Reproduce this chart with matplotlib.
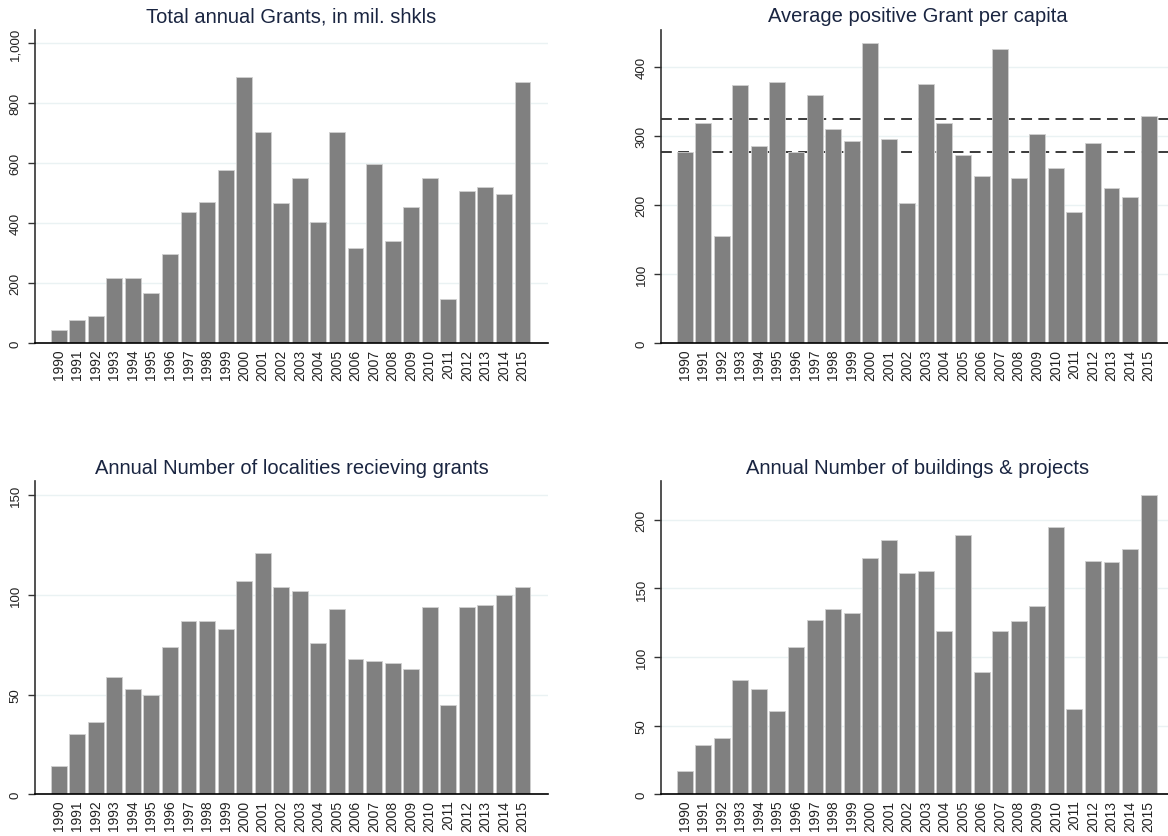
import numpy as np
import matplotlib
matplotlib.use('Agg')
import matplotlib.pyplot as plt
from matplotlib.ticker import FuncFormatter

plt.rcParams['font.family'] = ['Liberation Sans', 'DejaVu Sans']

years = [str(y) for y in range(1990, 2016)]

total_grants = [44, 78, 90, 216, 216, 166, 299, 437, 470, 579, 888, 703, 466,
                550, 403, 703, 316, 597, 340, 453, 550, 148, 508, 520, 499, 871]
avg_grant = [278, 320, 155, 375, 286, 379, 278, 360, 311, 293, 435, 296, 204,
             376, 320, 273, 242, 426, 240, 304, 254, 191, 291, 225, 212, 330]
avg_ref_lines = [325, 278]
localities = [14, 30, 36, 59, 53, 50, 74, 87, 87, 83, 107, 121, 104, 102, 76,
              93, 68, 67, 66, 63, 94, 45, 94, 95, 100, 104]
buildings = [17, 36, 41, 83, 77, 61, 107, 127, 135, 132, 172, 185, 161, 163,
             119, 189, 89, 119, 126, 137, 195, 62, 170, 169, 179, 218]

titles = ['Total annual Grants, in mil. shkls',
          'Average positive Grant per capita',
          'Annual Number of localities recieving grants',
          'Annual Number of buildings & projects']

BAR = '#808080'
GRID = '#eaf2f3'
TITLE = '#1a2541'
W, H = 1168, 837

fig = plt.figure(figsize=(W / 100, H / 100), dpi=100)


def px_axes(left, top, right, bottom):
    return fig.add_axes([left / W, 1 - bottom / H, (right - left) / W, (bottom - top) / H])


def draw_panel(ax, values, title, yticks, ymax, comma=False, hlines=None):
    x = np.arange(len(values))
    for yv in yticks[1:]:
        ax.axhline(yv, color=GRID, lw=1.0, zorder=0)
    if hlines:
        for yv in hlines:
            ax.axhline(yv, color='#2b2b2b', lw=1.3, ls=(0, (6, 3.5)), zorder=1)
    ax.bar(x, values, width=0.86, color=BAR, edgecolor='#d0d0d0', linewidth=0.6, zorder=2)
    ax.set_xlim(-1.29, len(values) - 1 + 1.39)
    ax.set_ylim(0, ymax)
    ax.set_xticks(x)
    ax.set_xticklabels(years, rotation=90, fontsize=10, color='#222222')
    ax.tick_params(axis='x', length=0, pad=3.8)
    ax.set_yticks(yticks)
    if comma:
        ax.yaxis.set_major_formatter(FuncFormatter(lambda v, p: f'{int(v):,}'))
    ax.tick_params(axis='y', length=5, width=1, color='#333333', labelsize=9.5,
                   labelcolor='#222222', pad=4.5)
    for lab in ax.get_yticklabels():
        lab.set_rotation(90)
        lab.set_va('center')
    for s in ['top', 'right']:
        ax.spines[s].set_visible(False)
    ax.spines['left'].set_color('#333333')
    ax.spines['left'].set_linewidth(1.2)
    ax.spines['bottom'].set_color('#000000')
    ax.spines['bottom'].set_linewidth(1.2)
    ax.set_title(title, fontsize=14.5, color=TITLE, pad=6)


ax1 = px_axes(34.7, 30.7, 548.3, 344.3)
draw_panel(ax1, total_grants, titles[0], [0, 200, 400, 600, 800, 1000], 1045, comma=True)

ax2 = px_axes(660.7, 30.7, 1174.4, 344.3)
draw_panel(ax2, avg_grant, titles[1], [0, 100, 200, 300, 400], 454.7, hlines=avg_ref_lines)

ax3 = px_axes(34.7, 482.3, 548.3, 795.3)
draw_panel(ax3, localities, titles[2], [0, 50, 100, 150], 156.9)

ax4 = px_axes(660.7, 482.3, 1174.4, 795.3)
draw_panel(ax4, buildings, titles[3], [0, 50, 100, 150, 200], 228)

fig.savefig('out.png', dpi=100, facecolor='white')
